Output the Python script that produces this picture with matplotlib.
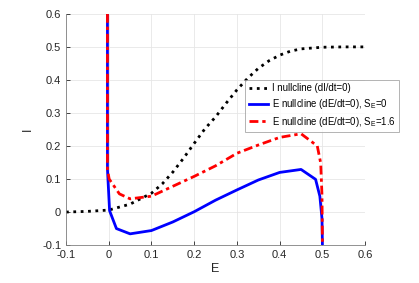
import matplotlib
matplotlib.use('Agg')
import matplotlib.pyplot as plt

plt.rcParams['font.family'] = ['Liberation Sans', 'DejaVu Sans']
plt.rcParams['mathtext.fontset'] = 'custom'
plt.rcParams['mathtext.rm'] = 'Liberation Sans'
plt.rcParams['mathtext.it'] = 'Liberation Sans'

# I nullcline (dI/dt=0)
i_null_E = [-0.1, -0.05, 0.0, 0.05, 0.1, 0.125, 0.15, 0.175, 0.2, 0.225, 0.25, 0.275, 0.3,
            0.325, 0.35, 0.375, 0.4, 0.425, 0.45, 0.5, 0.55, 0.6]
i_null_I = [0.0, 0.002, 0.006, 0.024, 0.057, 0.085, 0.121, 0.163, 0.208, 0.252, 0.288, 0.33, 0.37,
            0.405, 0.435, 0.458, 0.475, 0.487, 0.494, 0.499, 0.5, 0.5]

# E nullcline, S_E = 0
e0_E = [-0.003, -0.003, 0.002, 0.018, 0.05, 0.1, 0.15, 0.2, 0.25, 0.3, 0.35, 0.4, 0.45, 0.484, 0.494, 0.499, 0.5]
e0_I = [0.6, 0.13, 0.004, -0.05, -0.066, -0.056, -0.03, 0.001, 0.036, 0.067, 0.097, 0.12, 0.129, 0.099, 0.048, -0.02, -0.1]

# E nullcline, S_E = 1.6
e16_E = [-0.003, -0.003, 0.001, 0.025, 0.05, 0.1, 0.15, 0.2, 0.25, 0.3, 0.35, 0.4, 0.45, 0.488, 0.496, 0.499, 0.5]
e16_I = [0.6, 0.13, 0.1, 0.055, 0.04, 0.048, 0.078, 0.108, 0.14, 0.178, 0.203, 0.226, 0.237, 0.2, 0.148, 0.05, -0.1]

fig = plt.figure(figsize=(4.19, 2.83), dpi=100)
ax = fig.add_axes([0.1575, 0.134, 0.714, 0.817])

ax.plot(i_null_E, i_null_I, color='black', linestyle=':', linewidth=2, label='I nullcline (dI/dt=0)')
ax.plot(e0_E, e0_I, color='blue', linestyle='-', linewidth=2,
        label=r'E nullcline (dE/dt=0), $\mathregular{S_E}$=0')
ax.plot(e16_E, e16_I, color='red', linestyle=(0, (3.2, 1.4, 1.2, 1.4)), linewidth=2,
        label=r'E nullcline (dE/dt=0), $\mathregular{S_E}$=1.6')

ax.set_xlim(-0.1, 0.6)
ax.set_ylim(-0.1, 0.6)
ax.set_xticks([-0.1, 0, 0.1, 0.2, 0.3, 0.4, 0.5, 0.6])
ax.set_xticklabels(['-0.1', '0', '0.1', '0.2', '0.3', '0.4', '0.5', '0.6'])
ax.set_yticks([-0.1, 0, 0.1, 0.2, 0.3, 0.4, 0.5, 0.6])
ax.set_yticklabels(['-0.1', '0', '0.1', '0.2', '0.3', '0.4', '0.5', '0.6'])
ax.tick_params(direction='in', length=3, labelsize=8, colors='#262626', width=0.6)
ax.grid(True, color='#e6e6e6', linewidth=0.6)
ax.set_axisbelow(True)
for side in ['top', 'right']:
    ax.spines[side].set_visible(False)
for side in ['left', 'bottom']:
    ax.spines[side].set_color('#808080')
    ax.spines[side].set_linewidth(0.6)

ax.set_xlabel('E', fontsize=9, color='#262626', labelpad=2)
ax.set_ylabel('I', fontsize=9, color='#262626', labelpad=6)

leg = ax.legend(loc='upper left', bbox_to_anchor=(0.6, 0.715), fontsize=6.9, frameon=True,
                fancybox=False, edgecolor='#a0a0a0', handlelength=2.0, handletextpad=0.4,
                borderpad=0.35, labelspacing=0.4, borderaxespad=0)
leg.get_frame().set_linewidth(0.7)

fig.savefig('out.png', dpi=100)
